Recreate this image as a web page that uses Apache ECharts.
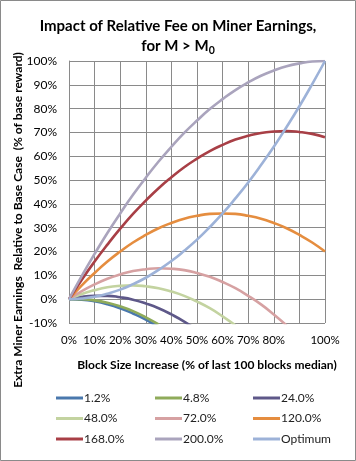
<!DOCTYPE html>
<html><head><meta charset="utf-8">
<script src="https://cdn.jsdelivr.net/npm/echarts@6/dist/echarts.min.js"></script>
<style>html,body{margin:0;padding:0;background:#fff}#c{width:356px;height:461px}</style>
</head><body><div id="c"></div>
<script>
const xValues = [0,5,10,15,20,25,30,35,40,45,50,55,60,65,70,75,80,85,90,95,100];
const xTicks = ['0%','10%','20%','30%','40%','50%','60%','70%','80%','90%','100%'];
const yTicks = ['-10%','0%','10%','20%','30%','40%','50%','60%','70%','80%','90%','100%'];
const seriesNames = ['1.2%','4.8%','24.0%','48.0%','72.0%','120.0%','168.0%','200.0%','Optimum'];
const s1_2 = [0,-0.2,-0.9,-2.1,-3.8,-6.0,-8.6,-11.8];
const s4_8 = [0,0,-0.5,-1.5,-3.0,-5.0,-7.6,-10.6];
const s24 = [0,1.0,1.4,1.4,0.8,-0.2,-1.8,-3.8,-6.4,-9.4,-13];
const s48 = [0,2.2,3.8,5.0,5.6,5.8,5.4,4.6,3.2,1.4,-1,-3.8,-7.2,-11];
const s72 = [0,3.4,6.2,8.6,10.4,11.8,12.6,13.0,12.8,12.2,11,9.4,7.2,4.6,1.4,-2.2,-6.4,-11];
const s120 = [0,5.8,11,15.8,20,23.8,27,29.8,32,33.8,35,35.8,36,35.8,35,33.8,32,29.8,27,23.8,20];
const s168 = [0,8.2,15.8,22.9,29.6,35.8,41.4,46.6,51.2,55.4,59,62.2,64.8,67,68.6,69.8,70.4,70.6,70.2,69.4,68];
const s200 = [0,9.8,19,27.8,36,43.8,51,57.8,64,69.8,75,79.8,84,87.8,91,93.8,96,97.8,99,99.8,100];
const sOpt = [0,0.3,1,2.3,4,6.3,9,12.3,16,20.3,25,30.3,36,42.3,49,56.3,64,72.3,81,90.3,100];
const colors = ['#4a78ad','#8fab5a','#5e5889','#c3d3a0','#d6a1a2','#e58d3f','#a83f46','#aaa4bd','#9db2d8'];
const allData = [s1_2,s4_8,s24,s48,s72,s120,s168,s200,sOpt];

const FONT = 'Lato';
const chart = echarts.init(document.getElementById('c'));
const legendCols = [[0,3,6],[1,4,7],[2,5,8]];
const legendLeft = [51,150,248];
chart.setOption({
  animation:false,
  color: colors,
  title:{
    text:'Impact of Relative Fee on Miner Earnings,\nfor M > M{s|0}',
    left:'center', top:11,
    textStyle:{fontFamily:FONT,fontSize:15,fontWeight:'bold',color:'#000',lineHeight:20,
      rich:{s:{fontFamily:FONT,fontSize:10.5,fontWeight:'bold',color:'#000',lineHeight:14,verticalAlign:'bottom'}}}
  },
  graphic:[
    {type:'rect',shape:{x:0.5,y:0.5,width:355,height:460},style:{fill:'none',stroke:'#8a8a8a',lineWidth:1},silent:true},
    {type:'text',x:18,y:220,rotation:Math.PI/2,style:{text:'Extra Miner Earnings  Relative to Base Case  (% of base reward)',
      font:'bold 12px '+FONT,fill:'#000',align:'center',verticalAlign:'middle'}}
  ],
  legend: legendCols.map((col,i)=>({
    orient:'vertical', left:legendLeft[i], top:387,
    data: col.map(k=>seriesNames[k]),
    icon:'rect', itemWidth:27, itemHeight:3, itemGap:8.5,
    textStyle:{fontFamily:FONT,fontSize:12,color:'#222',padding:[0,0,0,-4]}
  })),
  grid:{left:69,right:31,top:61,bottom:138,containLabel:false},
  xAxis:{
    type:'value',min:0,max:100,interval:10,
    name:'Block Size Increase (% of last 100 blocks median)',
    nameLocation:'middle',nameGap:36,
    nameTextStyle:{fontFamily:FONT,fontSize:12,fontWeight:'bold',color:'#000',padding:[0,0,0,20]},
    axisLine:{show:true,lineStyle:{color:'#8a8a8a'}},
    axisTick:{show:false},
    splitLine:{show:true,lineStyle:{color:'#8a8a8a',width:1}},
    axisLabel:{fontFamily:FONT,fontSize:11.5,color:'#000',margin:11,showMaxLabel:true,showMinLabel:true,hideOverlap:false,
      formatter:v=>xTicks[Math.round(v/10)]}
  },
  yAxis:{
    type:'value',min:-10,max:100,interval:10,
    axisLine:{show:true,lineStyle:{color:'#8a8a8a'}},
    axisTick:{show:false},
    splitLine:{show:true,lineStyle:{color:'#8a8a8a',width:1}},
    axisLabel:{fontFamily:FONT,fontSize:12,color:'#000',margin:12,
      formatter:v=>yTicks[Math.round(v/10)+1]}
  },
  series: allData.map((arr,i)=>({
    name:seriesNames[i], type:'line', smooth:true, symbol:'none', clip:true,
    lineStyle:{width:2.6,color:colors[i]}, itemStyle:{color:colors[i]},
    data: arr.map((v,j)=>[xValues[j],v])
  }))
});
</script></body></html>
